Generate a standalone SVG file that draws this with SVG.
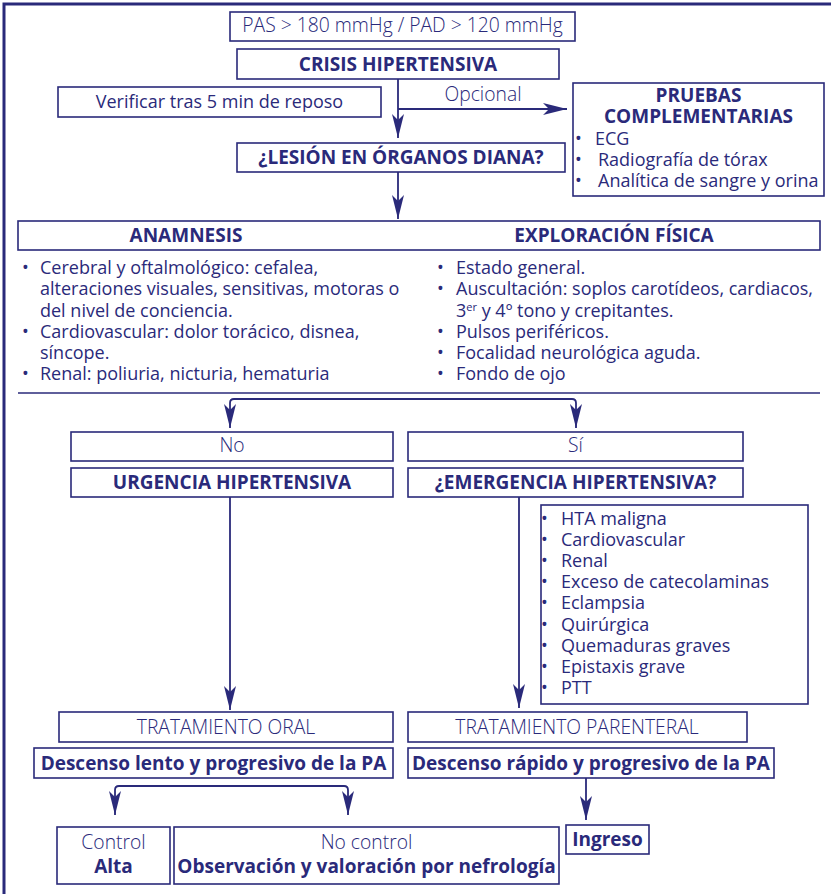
<svg xmlns="http://www.w3.org/2000/svg" width="831" height="894" viewBox="0 0 831 894">
<defs>
<style>
text{font-family:"Open Sans","Liberation Sans",sans-serif;fill:#2a2a7a}
.b{font-weight:700;font-size:19px}
.r{font-size:18px;font-weight:400}
.l{font-weight:300;font-size:19.3px}
.c{text-anchor:middle}
.box{fill:#fff;stroke:#2a2a7a;stroke-width:1.6}
.ln{fill:none;stroke:#2a2a7a;stroke-width:1.8}
</style>
<marker id="ahr" viewBox="0 0 24 12" refX="24" refY="6" markerWidth="24" markerHeight="12" markerUnits="userSpaceOnUse" orient="0">
<path d="M0,0 L24,6 L0,12 L6,6 Z" fill="#2a2a7a"/>
</marker>
<marker id="ahd" viewBox="0 0 12 24" refX="6" refY="24" markerWidth="12" markerHeight="24" markerUnits="userSpaceOnUse" orient="0">
<path d="M0,0 L6,6 L12,0 L6,24 Z" fill="#2a2a7a"/>
</marker>
</defs>
<rect width="831" height="894" fill="#fff"/>
<path d="M4,894 V4 H831" fill="none" stroke="#2a2a7a" stroke-width="3"/>

<g id="connectors">
<path class="ln" d="M398,79 V138" marker-end="url(#ahd)"/>
<path class="ln" d="M398,109 H567" marker-end="url(#ahr)"/>
<path class="ln" d="M398,172 V219" marker-end="url(#ahd)"/>
<path class="ln" d="M230,428 V403 Q230,399 234,399 H572 Q576,399 576,403 V428" marker-start="url(#ahd)" marker-end="url(#ahd)"/>
<path class="ln" d="M230,497 V710" marker-end="url(#ahd)"/>
<path class="ln" d="M519,497 V708" marker-end="url(#ahd)"/>
<path class="ln" d="M115,815 V790 Q115,786 119,786 H344 Q348,786 348,790 V815" marker-start="url(#ahd)" marker-end="url(#ahd)"/>
<path class="ln" d="M586,778 V820" marker-end="url(#ahd)"/>
<text class="l c" x="483" y="101">Opcional</text>
</g>

<g id="pas">
<rect class="box" x="230" y="12" width="345" height="29"/>
<text class="l c" x="402.5" y="32">PAS &gt; 180 mmHg / PAD &gt; 120 mmHg</text>
</g>
<g id="crisis">
<rect class="box" x="237" y="49" width="322" height="30"/>
<text class="b c" x="398" y="70.5">CRISIS HIPERTENSIVA</text>
</g>
<g id="verificar">
<rect class="box" x="58" y="87" width="323" height="30"/>
<text class="r c" x="219.5" y="108">Verificar tras 5 min de reposo</text>
</g>
<g id="lesion">
<rect class="box" x="237" y="143" width="328" height="29"/>
<text class="b c" x="401" y="164">¿LESIÓN EN ÓRGANOS DIANA?</text>
</g>
<g id="pruebas">
<rect class="box" x="573" y="83" width="251" height="113"/>
<text class="r"><tspan class="b c" x="698.5" y="102">PRUEBAS</tspan><tspan class="b c" x="698.5" y="123">COMPLEMENTARIAS</tspan><tspan x="575" y="145">•</tspan><tspan x="595">ECG</tspan><tspan x="575" y="166">•</tspan><tspan x="598">Radiografía de tórax</tspan><tspan x="575" y="187">•</tspan><tspan x="598">Analítica de sangre y orina</tspan></text>
</g>
<g id="evaluacion">
<rect class="box" x="18" y="221" width="802" height="29"/>
<text class="b c" x="186" y="242">ANAMNESIS</text>
<text class="b c" x="614" y="242">EXPLORACIÓN FÍSICA</text>
<path d="M18,393 H820" stroke="#2a2a7a" stroke-width="1.6"/>
</g>
<g id="anamnesis">
<text class="r"><tspan x="22" y="274">•</tspan><tspan x="40">Cerebral y oftalmológico: cefalea,</tspan><tspan x="40" y="295">alteraciones visuales, sensitivas, motoras o</tspan><tspan x="40" y="317">del nivel de conciencia.</tspan><tspan x="22" y="338">•</tspan><tspan x="40">Cardiovascular: dolor torácico, disnea,</tspan><tspan x="40" y="359">síncope.</tspan><tspan x="22" y="380">•</tspan><tspan x="40">Renal: poliuria, nicturia, hematuria</tspan></text>
</g>
<g id="exploracion">
<text class="r"><tspan x="437" y="274">•</tspan><tspan x="456">Estado general.</tspan><tspan x="437" y="295">•</tspan><tspan x="456">Auscultación: soplos carotídeos, cardiacos,</tspan><tspan x="456" y="317">3</tspan><tspan font-size="11" y="311">er</tspan><tspan y="317"> y 4º tono y crepitantes.</tspan><tspan x="437" y="338">•</tspan><tspan x="456">Pulsos periféricos.</tspan><tspan x="437" y="359">•</tspan><tspan x="456">Focalidad neurológica aguda.</tspan><tspan x="437" y="380">•</tspan><tspan x="456">Fondo de ojo</tspan></text>
</g>
<g id="no">
<rect class="box" x="71" y="432" width="322" height="29"/>
<text class="l c" x="232" y="452">No</text>
</g>
<g id="si">
<rect class="box" x="408" y="432" width="335" height="29"/>
<text class="l c" x="575.5" y="452">Sí</text>
</g>
<g id="urgencia">
<rect class="box" x="71" y="468" width="322" height="29"/>
<text class="b c" x="232" y="488.5">URGENCIA HIPERTENSIVA</text>
</g>
<g id="emergencia">
<rect class="box" x="408" y="468" width="335" height="29"/>
<text class="b c" x="575.5" y="488.5">¿EMERGENCIA HIPERTENSIVA?</text>
</g>
<g id="emergencias">
<rect class="box" x="541" y="505" width="267" height="199"/>
<text class="r"><tspan x="541" y="525">•</tspan><tspan x="561">HTA maligna</tspan><tspan x="541" y="546">•</tspan><tspan x="561">Cardiovascular</tspan><tspan x="541" y="567">•</tspan><tspan x="561">Renal</tspan><tspan x="541" y="588">•</tspan><tspan x="561">Exceso de catecolaminas</tspan><tspan x="541" y="609">•</tspan><tspan x="561">Eclampsia</tspan><tspan x="541" y="631">•</tspan><tspan x="561">Quirúrgica</tspan><tspan x="541" y="652">•</tspan><tspan x="561">Quemaduras graves</tspan><tspan x="541" y="673">•</tspan><tspan x="561">Epistaxis grave</tspan><tspan x="541" y="694">•</tspan><tspan x="561">PTT</tspan></text>
</g>
<g id="oral">
<rect class="box" x="59" y="712" width="334" height="30"/>
<text class="l c" x="226" y="734">TRATAMIENTO ORAL</text>
</g>
<g id="parenteral">
<rect class="box" x="408" y="712" width="339" height="30"/>
<text class="l c" x="577" y="734">TRATAMIENTO PARENTERAL</text>
</g>
<g id="lento">
<rect class="box" x="34" y="748" width="359" height="30"/>
<text class="b c" x="213.5" y="769.5">Descenso lento y progresivo de la PA</text>
</g>
<g id="rapido">
<rect class="box" x="408" y="748" width="366" height="30"/>
<text class="b c" x="591" y="769.5">Descenso rápido y progresivo de la PA</text>
</g>
<g id="control">
<rect class="box" x="57" y="827" width="113" height="57"/>
<text class="c"><tspan class="l" x="113.5" y="849">Control</tspan><tspan class="b" x="113.5" y="873">Alta</tspan></text>
</g>
<g id="nocontrol">
<rect class="box" x="174" y="827" width="385" height="57"/>
<text class="c"><tspan class="l" x="366.5" y="849">No control</tspan><tspan class="b" x="366.5" y="873">Observación y valoración por nefrología</tspan></text>
</g>
<g id="ingreso">
<rect class="box" x="566" y="825" width="83" height="29"/>
<text class="b c" x="607.5" y="846">Ingreso</text>
</g>
</svg>
